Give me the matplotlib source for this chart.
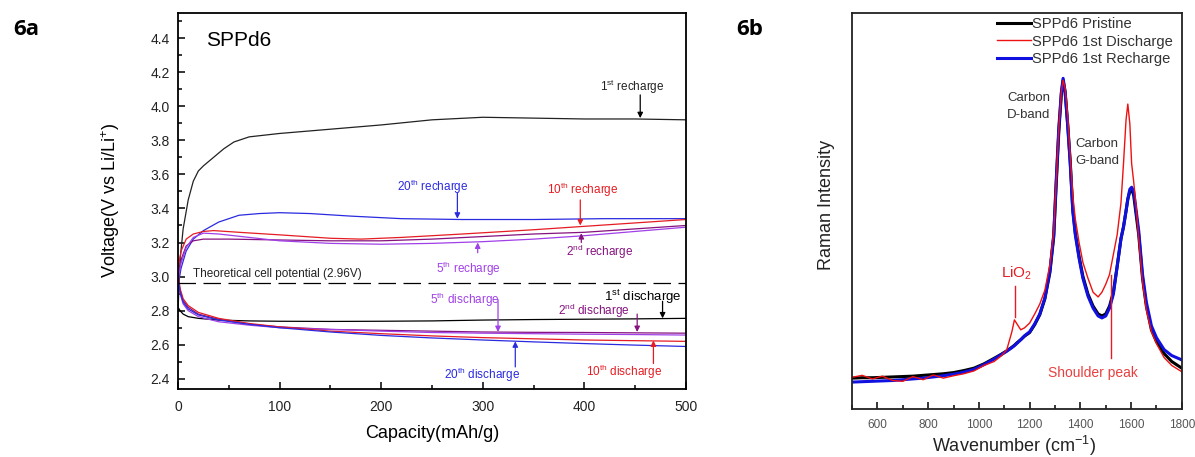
import matplotlib
matplotlib.use("Agg")
import matplotlib.pyplot as plt
from matplotlib.ticker import MultipleLocator

plt.rcParams['font.family'] = ['Liberation Sans', 'DejaVu Sans']
plt.rcParams['mathtext.fontset'] = 'custom'
plt.rcParams['mathtext.rm'] = 'Liberation Sans'
plt.rcParams['mathtext.it'] = 'Liberation Sans:italic'

# ---- 6a: voltage profiles ----
rc1_cap = [0, 2, 5, 10, 15, 20, 25, 35, 45, 55, 70, 100, 150, 200, 250, 300, 350, 400, 450, 500]
rc1_v = [2.80, 3.10, 3.28, 3.45, 3.56, 3.62, 3.65, 3.70, 3.75, 3.79, 3.82, 3.84, 3.865, 3.89, 3.92, 3.935, 3.93, 3.925, 3.925, 3.92]

rc20_cap = [0, 3, 8, 15, 25, 40, 60, 80, 100, 130, 170, 220, 280, 350, 420, 500]
rc20_v = [2.95, 3.05, 3.15, 3.22, 3.27, 3.32, 3.36, 3.37, 3.375, 3.37, 3.355, 3.34, 3.335, 3.335, 3.34, 3.34]

rc10_cap = [0, 3, 8, 15, 25, 35, 60, 100, 150, 180, 220, 280, 350, 400, 450, 500]
rc10_v = [3.05, 3.15, 3.22, 3.25, 3.265, 3.27, 3.26, 3.245, 3.225, 3.22, 3.23, 3.25, 3.275, 3.295, 3.315, 3.335]

rc2_cap = [0, 3, 8, 15, 25, 50, 100, 150, 200, 250, 300, 350, 400, 450, 500]
rc2_v = [3.0, 3.10, 3.18, 3.21, 3.22, 3.22, 3.215, 3.21, 3.21, 3.22, 3.235, 3.25, 3.26, 3.28, 3.30]

rc5_cap = [0, 3, 8, 15, 25, 40, 70, 100, 150, 200, 250, 300, 350, 400, 450, 500]
rc5_v = [2.98, 3.08, 3.17, 3.23, 3.255, 3.25, 3.23, 3.21, 3.195, 3.19, 3.195, 3.205, 3.22, 3.24, 3.265, 3.29]

dc_cap = [0, 2, 5, 10, 20, 40, 70, 100, 150, 200, 250, 300, 350, 400, 450, 500]
dc1_v = [2.82, 2.80, 2.78, 2.765, 2.755, 2.745, 2.74, 2.738, 2.737, 2.738, 2.74, 2.745, 2.748, 2.75, 2.752, 2.755]
dc2_v = [3.0, 2.92, 2.86, 2.82, 2.78, 2.75, 2.72, 2.705, 2.69, 2.685, 2.68, 2.675, 2.673, 2.672, 2.67, 2.668]
dc5_v = [2.98, 2.90, 2.84, 2.80, 2.765, 2.735, 2.715, 2.70, 2.69, 2.68, 2.672, 2.668, 2.665, 2.662, 2.66, 2.657]
dc10_v = [3.02, 2.93, 2.87, 2.83, 2.79, 2.755, 2.725, 2.705, 2.68, 2.665, 2.652, 2.642, 2.635, 2.628, 2.624, 2.62]
dc20_v = [3.0, 2.91, 2.85, 2.81, 2.775, 2.745, 2.72, 2.70, 2.675, 2.655, 2.64, 2.628, 2.617, 2.607, 2.598, 2.59]

theo_v = 2.96

# ---- 6b: Raman spectra ----
wn = [500, 540, 580, 620, 660, 700, 740, 780, 820, 860, 900, 940, 980, 1020, 1060, 1090, 1110, 1130,
      1140, 1150, 1165, 1180, 1200, 1220, 1240, 1260, 1280, 1295, 1305, 1315, 1325, 1332, 1340, 1350,
      1360, 1370, 1380, 1395, 1410, 1430, 1450, 1470, 1485, 1500, 1515, 1530, 1545, 1560, 1570, 1580,
      1587, 1595, 1602, 1610, 1620, 1630, 1645, 1660, 1680, 1700, 1730, 1760, 1800]
pristine = [7.8, 7.9, 7.9, 8.0, 8.1, 8.2, 8.3, 8.5, 8.7, 8.9, 9.2, 9.7, 10.3, 11.4, 12.8, 13.9, 14.7, 15.6,
            16.1, 16.7, 17.5, 18.4, 19.3, 21.3, 23.8, 27.8, 34.5, 43.5, 57, 70, 79.5, 83, 80, 72,
            62.5, 50.5, 44.5, 38.5, 33.5, 29, 26, 24, 23.5, 24, 26, 29.5, 36, 43, 46, 50,
            53, 55, 55.5, 54, 49, 44, 33, 26, 20, 17, 14, 12, 10.3]
discharge = [8.0, 8.5, 7.6, 8.3, 7.2, 7.0, 8.2, 7.4, 8.6, 7.8, 8.4, 8.9, 9.6, 11.0, 12.0, 13.5, 15.0, 19.5,
             22.5, 21.5, 20.0, 20.5, 21.7, 24.0, 26.5, 30, 36.5, 45, 58, 71, 80, 83, 81, 74,
             64, 54, 48, 42, 37, 33, 29.5, 28.3, 29.5, 31.5, 34, 39, 44, 52, 62, 73,
             77, 72, 62, 57.5, 51, 43, 32, 25, 19.5, 16.5, 13, 11, 9.4]
recharge = [6.8, 6.9, 7.0, 7.1, 7.2, 7.4, 7.6, 7.8, 8.1, 8.4, 8.8, 9.3, 10.0, 11.2, 12.6, 13.8, 14.6, 15.5,
            16.0, 16.6, 17.5, 18.5, 19.5, 21.5, 24.0, 28.0, 35, 44, 58, 71, 80, 83.5, 80, 71.5,
            62, 50, 44, 38, 33, 28.5, 25.5, 23.5, 23.0, 23.5, 25.5, 29, 36, 43, 46, 50,
            53, 55.5, 56, 55, 50, 45, 34, 27, 21, 18, 15, 13.5, 12.4]

c_black = 'black'
c_blue = '#2a2ae0'
c_red = '#e51c23'
c_purple = '#86127f'
c_violet = '#a040e8'

fig = plt.figure(figsize=(11.95, 4.57), dpi=100)

# ================= 6a =================
ax = fig.add_axes([0.149, 0.149, 0.425, 0.8226])
lw = 0.9
ax.plot(rc1_cap, rc1_v, color='#222222', lw=lw)
ax.plot(rc20_cap, rc20_v, color=c_blue, lw=lw)
ax.plot(rc10_cap, rc10_v, color=c_red, lw=lw)
ax.plot(rc2_cap, rc2_v, color=c_purple, lw=lw)
ax.plot(rc5_cap, rc5_v, color=c_violet, lw=lw)
ax.plot(dc_cap, dc1_v, color=c_black, lw=lw)
ax.plot(dc_cap, dc2_v, color=c_purple, lw=lw)
ax.plot(dc_cap, dc5_v, color=c_violet, lw=lw)
ax.plot(dc_cap, dc10_v, color=c_red, lw=lw)
ax.plot(dc_cap, dc20_v, color=c_blue, lw=lw)
ax.axhline(theo_v, color='black', lw=0.9, dashes=(14, 6))

ax.set_xlim(0, 500)
ax.set_ylim(2.341, 4.547)
ax.xaxis.set_major_locator(MultipleLocator(100))
ax.xaxis.set_minor_locator(MultipleLocator(50))
ax.yaxis.set_major_locator(MultipleLocator(0.2))
ax.yaxis.set_minor_locator(MultipleLocator(0.1))
ax.yaxis.set_major_formatter(matplotlib.ticker.FormatStrFormatter('%.1f'))
ax.tick_params(which='both', direction='in', top=False, right=False, width=1.1, colors='black')
ax.tick_params(which='major', length=5)
ax.tick_params(which='minor', length=3)
ax.tick_params(axis='x', pad=8, labelsize=10, labelcolor='#222222')
ax.tick_params(axis='y', pad=6, labelsize=10, labelcolor='#222222')
for s in ax.spines.values():
    s.set_linewidth(1.3)

ax.set_xlabel('Capacity(mAh/g)', fontsize=13)
ax.set_ylabel('Voltage(V vs Li/Li$^{+}$)', fontsize=13)
ax.xaxis.set_label_coords(0.5, -0.096)
ax.yaxis.set_label_coords(-0.110, 0.5)

ax.text(28, 4.384, 'SPPd6', fontsize=15, va='center', ha='left')

labels_a = [
    ('1$^{\\mathrm{st}}$ recharge', 415, 4.113, '#222222', 8.5),
    ('20$^{\\mathrm{th}}$ recharge', 215.5, 3.526, c_blue, 8.5),
    ('10$^{\\mathrm{th}}$ recharge', 363, 3.508, c_red, 8.5),
    ('2$^{\\mathrm{nd}}$ recharge', 382, 3.145, c_purple, 8.5),
    ('5$^{\\mathrm{th}}$ recharge', 254, 3.045, c_violet, 8.5),
    ('Theoretical cell potential (2.96V)', 15, 3.016, '#222222', 8.5),
    ('5$^{\\mathrm{th}}$ discharge', 248, 2.863, c_violet, 8.5),
    ('1$^{\\mathrm{st}}$ discharge', 419, 2.883, 'black', 9.5),
    ('2$^{\\mathrm{nd}}$ discharge', 374, 2.80, c_purple, 8.5),
    ('20$^{\\mathrm{th}}$ discharge', 262, 2.423, c_blue, 8.5),
    ('10$^{\\mathrm{th}}$ discharge', 401.6, 2.443, c_red, 8.5),
]
for txt, x, y, col, fs in labels_a:
    ax.text(x, y, txt, color=col, fontsize=fs, ha='left', va='center')

arrows_a = [
    (455, 4.066, 3.93, 'black'),
    (275, 3.49, 3.34, c_blue),
    (396, 3.45, 3.30, c_red),
    (397, 3.20, 3.255, c_purple),
    (295, 3.14, 3.20, c_violet),
    (315, 2.865, 2.675, c_violet),
    (477, 2.855, 2.755, 'black'),
    (452, 2.78, 2.675, c_purple),
    (332, 2.47, 2.62, c_blue),
    (468, 2.49, 2.625, c_red),
]
for x, y0, y1, col in arrows_a:
    ax.annotate('', xy=(x, y1), xytext=(x, y0),
                arrowprops=dict(arrowstyle='-|>', color=col, lw=0.9,
                                mutation_scale=8, shrinkA=0, shrinkB=0))

# ================= 6b =================
bx = fig.add_axes([0.713, 0.105, 0.276, 0.8666])
bx.plot(wn, pristine, color='black', lw=2.2, label='SPPd6 Pristine')
bx.plot(wn, recharge, color='#1010e0', lw=2.2, label='SPPd6 1st Recharge')
bx.plot(wn, discharge, color='#ee1111', lw=1.0, label='SPPd6 1st Discharge')

bx.set_xlim(500, 1800)
bx.set_ylim(0, 100)
bx.xaxis.set_major_locator(MultipleLocator(200))
bx.xaxis.set_minor_locator(MultipleLocator(100))
bx.set_yticks([])
bx.tick_params(which='both', direction='in', top=False, right=False, width=1.1)
bx.tick_params(which='major', length=5)
bx.tick_params(which='minor', length=3)
bx.tick_params(axis='x', pad=7, labelsize=8.5, labelcolor='#555555')
for s in bx.spines.values():
    s.set_linewidth(1.3)
    s.set_color('#222222')

bx.set_xlabel('Wavenumber (cm$^{-1}$)', fontsize=13, color='#222222')
bx.set_ylabel('Raman Intensity', fontsize=13, color='#222222')
bx.xaxis.set_label_coords(0.49, -0.062)
bx.yaxis.set_label_coords(-0.052, 0.515)

h, l = bx.get_legend_handles_labels()
order = [0, 2, 1]
bx.legend([h[i] for i in order], [l[i] for i in order], loc='upper left',
          bbox_to_anchor=(0.44, 0.99), frameon=False, fontsize=10.6,
          handlelength=2.3, handletextpad=0.1, labelspacing=0.25,
          borderpad=0, borderaxespad=0, labelcolor='#333333')

bx.text(1111, 76.4, 'Carbon\nD-band', fontsize=9.5, color='#333333', ha='left', va='center', linespacing=1.5)
bx.text(1380, 64.8, 'Carbon\nG-band', fontsize=9.5, color='#333333', ha='left', va='center', linespacing=1.5)
bx.text(1088, 34.3, 'LiO$_2$', fontsize=11, color=c_red, ha='left', va='center')
bx.plot([1142, 1142], [31.1, 23.2], color=c_red, lw=1.0)
bx.text(1273, 9.1, 'Shoulder peak', fontsize=10, color='#e84040', ha='left', va='center')
bx.plot([1522, 1522], [33.8, 12.9], color=c_red, lw=1.0)

fig.text(0.011, 0.935, '6a', fontsize=16, fontweight='bold', family='Open Sans', va='center')
fig.text(0.616, 0.935, '6b', fontsize=16, fontweight='bold', family='Open Sans', va='center')

fig.savefig('out.png', dpi=100)
